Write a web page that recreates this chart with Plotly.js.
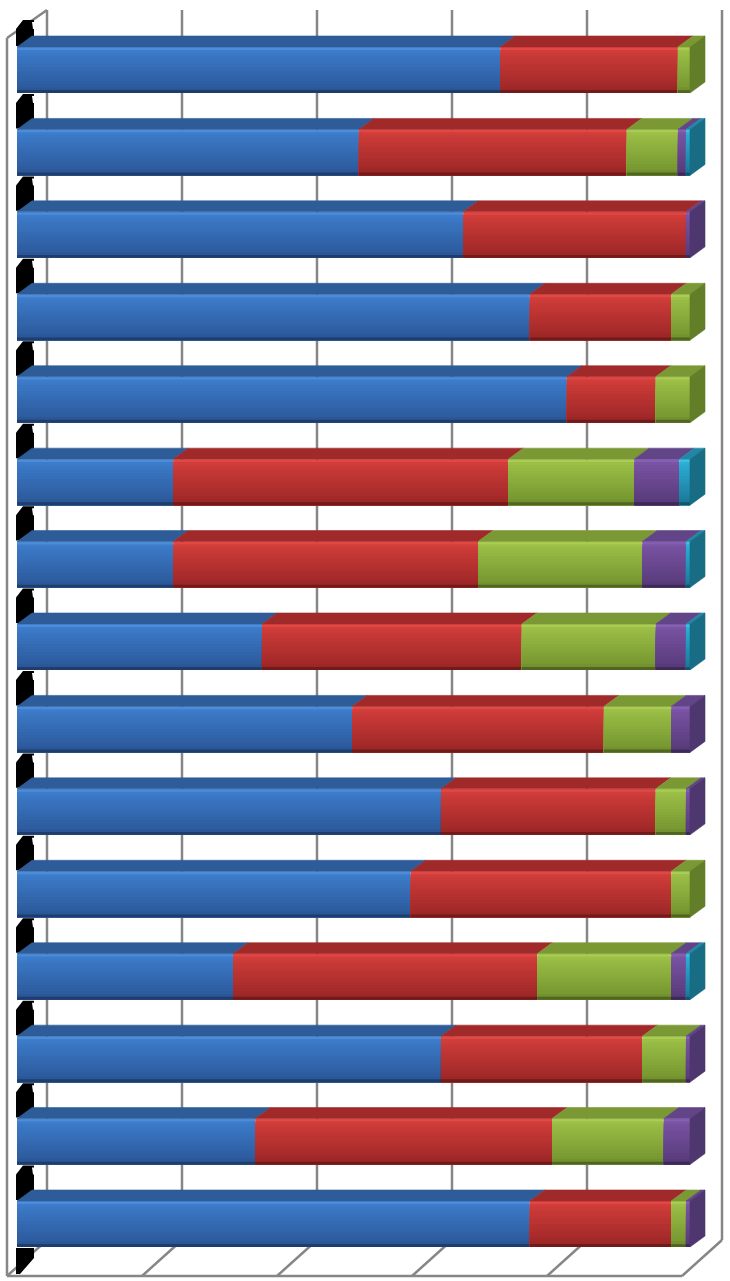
<!DOCTYPE html>
<html><head><meta charset="utf-8">
<script src="https://cdn.plot.ly/plotly-3.0.1.min.js"></script>
<style>html,body{margin:0;padding:0;background:#fff;overflow:hidden}</style>
</head><body><div id="chart" style="width:730px;height:1281px"></div>
<script>
// ---- data (100% stacked) ----
const categories = ['1','2','3','4','5','6','7','8','9','10','11','12','13','14','15'];
const seriesNames = ['Series 1','Series 2','Series 3','Series 4','Series 5'];
const s1 = [71.8, 50.8, 66.3, 76.2, 81.7, 23.2, 23.2, 36.4, 49.8, 63.0, 58.5, 32.1, 63.0, 35.4, 76.2];
const s2 = [26.4, 39.8, 33.1, 21.0, 13.2, 49.8, 45.3, 38.6, 37.4, 31.9, 38.7, 45.2, 29.9, 44.1, 21.0];
const s3 = [1.8, 7.6, 0, 2.8, 5.1, 18.7, 24.4, 19.9, 10.0, 4.5, 2.8, 19.9, 6.5, 16.6, 2.2];
const s4 = [0, 1.2, 0.6, 0, 0, 6.7, 6.5, 4.5, 2.8, 0.6, 0, 2.2, 0.6, 3.9, 0.6];
const s5 = [0, 0.6, 0, 0, 0, 1.6, 0.6, 0.6, 0, 0, 0, 0.6, 0, 0, 0];
const gridValues = [0, 20, 40, 60, 80, 100];

// ---- styles ----
const palette = [
  {light:[82,150,228], mid:[60,122,200], dark:[44,90,156], edge:[24,48,86], top:[45,92,152], side:[36,74,124]},
  {light:[236,76,72], mid:[206,60,57], dark:[160,40,40], edge:[90,20,20], top:[160,42,42], side:[128,33,33]},
  {light:[176,210,86], mid:[154,190,70], dark:[118,150,48], edge:[62,80,24], top:[122,152,52], side:[98,126,40]},
  {light:[140,100,186], mid:[120,82,162], dark:[90,60,124], edge:[48,32,68], top:[98,68,136], side:[78,54,110]},
  {light:[66,200,234], mid:[42,172,212], dark:[28,124,156], edge:[14,66,84], top:[32,136,166], side:[24,108,132]}
];
const W = 730, H = 1281;
const barFront0 = 17, barFront100 = 690;            // px of 0% / 100% on bar front faces
const firstCenter = 70, lastCenter = 1224;           // px of first / last bar centres
const halfBar = 0.279;                               // half thickness, category units
const depthPx = 15, depthPy = 11;                    // bar depth offset (px)
const wall = {f0:7, b0:47, per:6.75, floorF:1276, floorB:1240, topF:38, topB:10};
const gridColor = 'rgb(134,134,134)';

const xPerPx = 100 / (barFront100 - barFront0);
const xRange = [-barFront0 * xPerPx, (W - barFront0) * xPerPx];
const pxPerCat = (lastCenter - firstCenter) / (categories.length - 1);
const yRange = [(categories.length - 1) + (H - lastCenter) / pxPerCat, -firstCenter / pxPerCat];
const dX = depthPx * xPerPx, dY = depthPy / pxPerCat;

const series = [s1, s2, s3, s4, s5];
const idx = categories.map((c, i) => i);
const bases = series.map((s, k) => idx.map(i => series.slice(0, k).reduce((a, t) => a + t[i], 0)));

function rgb(c){ return 'rgb(' + c.map(v => Math.round(v)).join(',') + ')'; }
function lerp(a, b, t){ return a.map((v, i) => v + (b[i] - v) * t); }
function shade(p, t){
  if (t < 0.1) return lerp(p.light, p.mid, t / 0.1);
  if (t < 0.9) return lerp(p.mid, p.dark, (t - 0.1) / 0.8);
  return lerp(p.dark, p.edge, (t - 0.9) / 0.1);
}

const traces = [];
const N = 16, bw = 2 * halfBar / N;
series.forEach((s, k) => {
  for (let b = 0; b < N; b++) {
    // each band reaches down to the bar's bottom edge; later bands cover the lower part -> no seams
    traces.push({
      type: 'bar', orientation: 'h', name: seriesNames[k],
      y: idx, x: s.map(v => v > 0 ? v : null), base: bases[k],
      width: 2 * halfBar - b * bw, offset: -halfBar + b * bw,
      marker: {color: rgb(shade(palette[k], (b + 0.5) / N)), line: {width: 0}},
      hoverinfo: 'skip', showlegend: false
    });
  }
});
// top faces
series.forEach((s, k) => {
  const xs = [], ys = [];
  idx.forEach(i => {
    if (s[i] <= 0) return;
    const x0 = bases[k][i], x1 = x0 + s[i], yt = i - halfBar;
    xs.push(x0, x1, x1 + dX, x0 + dX, x0, null);
    ys.push(yt, yt, yt - dY, yt - dY, yt, null);
  });
  traces.push({type:'scatter', mode:'lines', x: xs, y: ys, fill:'toself',
    fillcolor: rgb(palette[k].top), line:{width:0.6, color: rgb(palette[k].top)},
    hoverinfo:'skip', showlegend:false});
});
// right end faces
series.forEach((s, k) => {
  const xs = [], ys = [];
  idx.forEach(i => {
    const last = series.map(t => t[i] > 0).lastIndexOf(true);
    if (last !== k) return;
    const xe = bases[k][i] + s[i], yt = i - halfBar, yb = i + halfBar;
    xs.push(xe, xe + dX, xe + dX, xe, xe, null);
    ys.push(yt, yt - dY, yb - dY, yb, yt, null);
  });
  if (xs.length) traces.push({type:'scatter', mode:'lines', x: xs, y: ys, fill:'toself',
    fillcolor: rgb(palette[k].side), line:{width:0.6, color: rgb(palette[k].side)},
    hoverinfo:'skip', showlegend:false});
});

// ---- walls, grid and label remnants (pixel geometry -> paper) ----
const px = v => v / W, py = v => 1 - v / H;
const shapes = [];
function seg(x0, y0, x1, y1){
  shapes.push({type:'line', xref:'paper', yref:'paper', x0:px(x0), y0:py(y0), x1:px(x1), y1:py(y1),
    line:{color:gridColor, width:2.5}, layer:'below'});
}
function blob(pts, color){
  shapes.push({type:'path', xref:'paper', yref:'paper', layer:'below', line:{width:0}, fillcolor:color || '#000',
    path: 'M' + pts.map(p => px(p[0]) + ',' + py(p[1])).join(' L') + ' Z'});
}
gridValues.forEach(v => {
  const bx = wall.b0 + wall.per * v, fx = wall.f0 + wall.per * v;
  seg(bx, wall.topB, bx, wall.floorB);       // back wall
  seg(fx, wall.floorF, bx, wall.floorB);     // floor
});
seg(wall.f0, wall.topF, wall.f0, wall.floorF);                    // side wall front edge
seg(wall.f0, wall.topF, wall.b0, wall.topB);                      // side wall top edge
seg(wall.f0, wall.floorF, wall.f0 + wall.per * 100, wall.floorF); // floor front edge

// black remnants of the hidden category labels on the side wall
idx.forEach(i => {
  const yc = firstCenter + i * pxPerCat;
  const top = Math.max(20, yc - pxPerCat + 24);
  blob([[16, top + 9], [23, top], [34, top], [34, yc - 24], [16, yc - 24]]);
  blob([[32, top + 2], [36, top + 2], [36, top + 9], [33, top + 9]], '#fff');
});
blob([[16, lastCenter + 24], [34, lastCenter + 24], [34, lastCenter + 34], [20, lastCenter + 50], [16, lastCenter + 50]]);

const layout = {
  width: W, height: H, margin:{l:0, r:0, t:0, b:0},
  paper_bgcolor:'#fff', plot_bgcolor:'rgba(0,0,0,0)',
  barmode:'overlay', showlegend:false,
  xaxis:{range:xRange, showgrid:false, zeroline:false, showticklabels:false, ticks:'', showline:false, fixedrange:true},
  yaxis:{range:yRange, tickvals: idx, ticktext: categories, showgrid:false, zeroline:false,
         showticklabels:false, ticks:'', showline:false, fixedrange:true},
  shapes: shapes
};
Plotly.newPlot('chart', traces, layout, {displayModeBar:false, staticPlot:true});
</script>
</body></html>
